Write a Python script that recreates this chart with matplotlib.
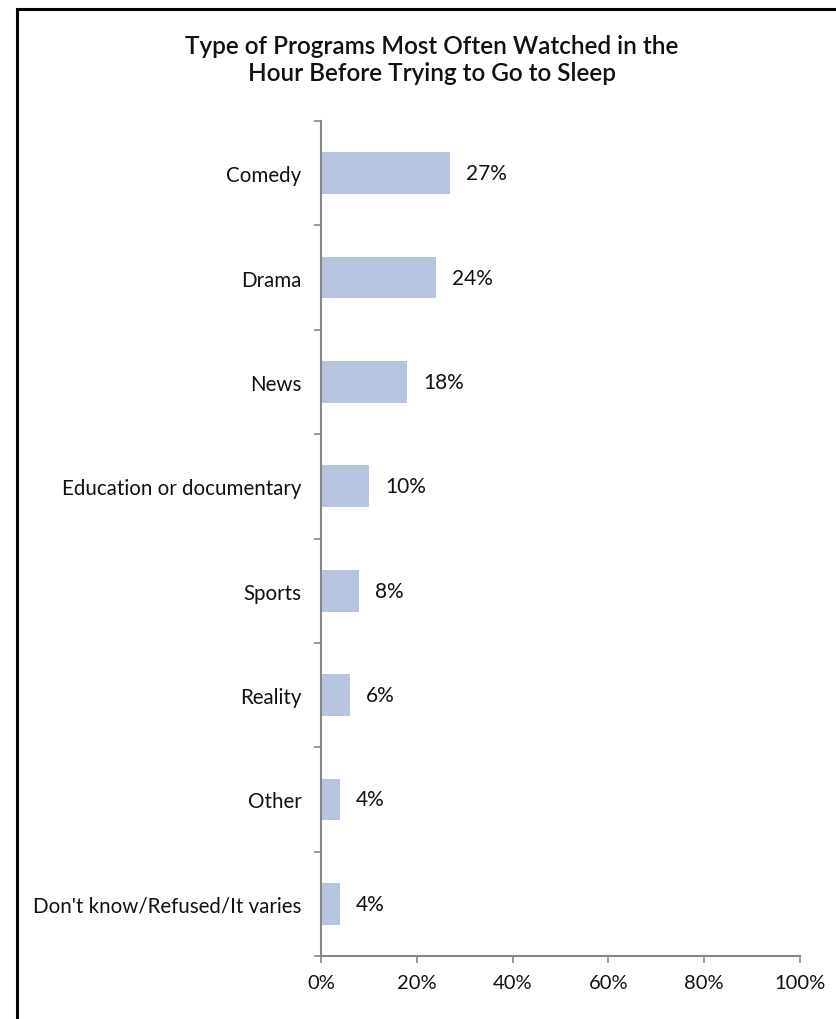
import matplotlib
matplotlib.use("Agg")
import matplotlib.pyplot as plt
from matplotlib.lines import Line2D

categories = ["Comedy", "Drama", "News", "Education or documentary",
              "Sports", "Reality", "Other", "Don't know/Refused/It varies"]
values = [27, 24, 18, 10, 8, 6, 4, 4]
x_ticks = [0, 20, 40, 60, 80, 100]
x_tick_labels = ["0%", "20%", "40%", "60%", "80%", "100%"]

plt.rcParams["font.family"] = ["Lato", "DejaVu Sans"]

W, H = 837, 1020
fig = plt.figure(figsize=(W / 100, H / 100), dpi=100)
ax = fig.add_axes([321 / W, 1 - 957 / H, (800 - 321) / W, (957 - 122) / H])

axis_color = "#868686"
bar_color = "#B7C4DF"
text_color = "#111111"
n = len(categories)
ypos = list(range(n))
ax.barh(ypos, values, height=0.4, color=bar_color, zorder=2)
ax.set_ylim(n - 0.5, -0.5)
ax.set_xlim(0, 100)

for y, v in zip(ypos, values):
    ax.annotate(f"{v}%", (v, y), xytext=(11.5, 0), textcoords="offset points",
                ha="left", va="center", fontsize=15, color=text_color)

# y ticks at category boundaries, labels at category centres
ax.set_yticks([i - 0.5 for i in range(n + 1)])
ax.set_yticklabels([])
ax.set_yticks(ypos, minor=True)
ax.set_yticklabels(categories, minor=True, fontsize=14.8, color=text_color)
ax.tick_params(axis="y", which="major", direction="out", length=5,
               width=1.2, color=axis_color)
ax.tick_params(axis="y", which="minor", length=0, pad=14)

ax.set_xticks(x_ticks)
ax.set_xticklabels(x_tick_labels, fontsize=14.5, color=text_color)
ax.tick_params(axis="x", direction="out", length=5, width=1.2,
               color=axis_color, pad=8)

for side in ["top", "right"]:
    ax.spines[side].set_visible(False)
for side in ["left", "bottom"]:
    ax.spines[side].set_color(axis_color)
    ax.spines[side].set_linewidth(1.5)

fig.text(432 / W, 1 - 60 / H,
         "Type of Programs Most Often Watched in the\nHour Before Trying to Go to Sleep",
         ha="center", va="center", fontsize=17.5, fontweight="semibold",
         color=text_color, linespacing=1.2)

# outer frame (left and top edges)
fig.add_artist(Line2D([17 / W, 17 / W], [0, 1 - 10 / H], transform=fig.transFigure,
                      color="black", linewidth=2.2))
fig.add_artist(Line2D([17 / W, 1], [1 - 10 / H, 1 - 10 / H], transform=fig.transFigure,
                      color="black", linewidth=2.2))

fig.savefig("out.png", dpi=100)
